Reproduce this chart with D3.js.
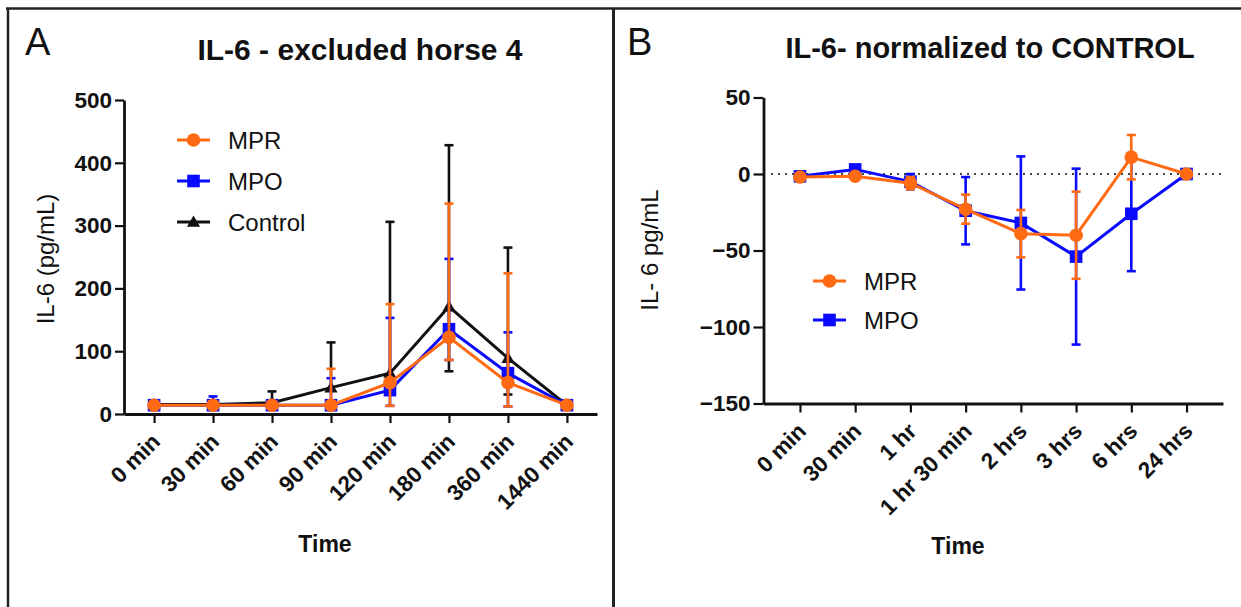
<!DOCTYPE html>
<html>
<head>
<meta charset="utf-8">
<script src="https://cdn.jsdelivr.net/npm/d3@7"></script>
<style>
  body { margin: 0; background: #fff; }
  text { font-family: "Liberation Sans", Arial, Helvetica, sans-serif; fill: #111; }
</style>
</head>
<body>
<svg id="chart" width="1241" height="607"></svg>
<script>
// ---------- Panel A: IL-6 (pg/mL), horse 4 excluded ----------
const timesA = ["0 min", "30 min", "60 min", "90 min", "120 min", "180 min", "360 min", "1440 min"];
const ticksA = [0, 100, 200, 300, 400, 500];

const mprA    = [14, 14, 14, 14, 50, 122, 50, 14];
const mprLoA  = [14, 14, 14, 14, 13, 86, 12, 14];
const mprHiA  = [14, 14, 14, 72, 175, 335, 224, 14];

const mpoA    = [14, 14, 14, 14, 38, 135, 65, 14];
const mpoLoA  = [14, 14, 14, 14, 13, 86, 12, 14];
const mpoHiA  = [14, 28, 14, 57, 153, 247, 130, 14];

const ctrlA   = [15, 15, 18, 42, 65, 171, 89, 14];
const ctrlLoA = [15, 15, 18, 42, 65, 68, 31, 14];
const ctrlHiA = [15, 15, 36, 114, 306, 428, 265, 14];

// ---------- Panel B: IL-6 normalized to control ----------
const timesB = ["0 min", "30 min", "1 hr", "1 hr 30 min", "2 hrs", "3 hrs", "6 hrs", "24 hrs"];
const ticksB = [-150, -100, -50, 0, 50];

const mprB    = [-2, -1.5, -6, -23, -39, -40, 11, 0];
const mprErrB = [0, 0, 4, 9.5, 15.5, 28.5, 14.5, 0];
const mpoB    = [-1.5, 3, -5, -24, -32, -54, -26, 0];
const mpoErrB = [0, 0, 5, 22, 43.5, 57.5, 37.5, 0];

const ORANGE = "#ff6a13";
const BLUE = "#0a0aff";
const BLACK = "#111";

const svg = d3.select("#chart");

// panel frame
const frame = svg.append("g").attr("stroke", "#222").attr("fill", "none");
frame.append("line").attr("x1", 6).attr("x2", 1241).attr("y1", 8.5).attr("y2", 8.5).attr("stroke-width", 2.5);
frame.append("line").attr("x1", 8).attr("x2", 8).attr("y1", 8).attr("y2", 607).attr("stroke-width", 2.5);
frame.append("line").attr("x1", 613.5).attr("x2", 613.5).attr("y1", 8).attr("y2", 607).attr("stroke-width", 3);

// panel letters and titles
svg.append("text").attr("x", 25).attr("y", 55).attr("font-size", 38).text("A");
svg.append("text").attr("x", 627).attr("y", 55).attr("font-size", 38).text("B");
svg.append("text").attr("x", 360).attr("y", 60).attr("text-anchor", "middle")
  .attr("font-size", 30).attr("font-weight", "bold").text("IL-6 - excluded horse 4");
svg.append("text").attr("x", 990).attr("y", 58).attr("text-anchor", "middle")
  .attr("font-size", 29).attr("font-weight", "bold").text("IL-6- normalized to CONTROL");

function marker(g, shape, color, cx, cy) {
  if (shape === "circle") {
    g.append("circle").attr("cx", cx).attr("cy", cy).attr("r", 6.8).attr("fill", color);
  } else if (shape === "square") {
    g.append("rect").attr("x", cx - 6.3).attr("y", cy - 6.3).attr("width", 12.6).attr("height", 12.6).attr("fill", color);
  } else {
    const s = d3.symbol(d3.symbolTriangle, 75)();
    g.append("path").attr("d", s).attr("transform", `translate(${cx},${cy + 1})`).attr("fill", color);
  }
}

function drawSeries(g, x, y, cats, mean, lo, hi, color, shape) {
  const s = g.append("g");
  const bars = s.append("g").attr("stroke", color).attr("stroke-width", 2.6);
  mean.forEach((m, i) => {
    const cx = x(cats[i]);
    [hi[i], lo[i]].forEach(v => {
      if (v === m) return;
      bars.append("line").attr("x1", cx).attr("x2", cx).attr("y1", y(m)).attr("y2", y(v));
      bars.append("line").attr("x1", cx - 4.5).attr("x2", cx + 4.5).attr("y1", y(v)).attr("y2", y(v));
    });
  });
  s.append("path").datum(mean)
    .attr("d", d3.line().x((d, i) => x(cats[i])).y(d => y(d)))
    .attr("fill", "none").attr("stroke", color).attr("stroke-width", 3).attr("stroke-linejoin", "miter");
  mean.forEach((m, i) => marker(s, shape, color, x(cats[i]), y(m)));
}

function styleAxis(ax) {
  ax.selectAll("path.domain").attr("stroke", BLACK).attr("stroke-width", 2.8);
  ax.selectAll(".tick line").attr("stroke", BLACK).attr("stroke-width", 2.2);
  ax.selectAll(".tick text").attr("font-family", "'Liberation Sans', Arial, sans-serif")
    .attr("font-size", 22.5).attr("font-weight", "bold").attr("fill", BLACK);
}

function xLabels(ax) {
  ax.selectAll(".tick text")
    .attr("text-anchor", "end")
    .attr("x", 0).attr("y", 0).attr("dy", 0)
    .attr("transform", "translate(7,29) rotate(-45)");
}

function legend(g, items, x0, y0, gap) {
  items.forEach((it, i) => {
    const cy = y0 + i * gap;
    g.append("line").attr("x1", x0).attr("x2", x0 + 33).attr("y1", cy).attr("y2", cy)
      .attr("stroke", it.color).attr("stroke-width", 3);
    marker(g, it.shape, it.color, x0 + 16.5, cy);
    g.append("text").attr("x", x0 + 51).attr("y", cy).attr("dy", "0.36em")
      .attr("font-size", 24).text(it.name);
  });
}

// ---------- Panel A ----------
{
  const g = svg.append("g");
  const x = d3.scalePoint().domain(timesA).range([124, 597]).padding(0.51);
  const y = d3.scaleLinear().domain([0, 500]).range([414, 100]);

  const ya = g.append("g").attr("transform", "translate(124,0)")
    .call(d3.axisLeft(y).tickValues(ticksA).tickSizeInner(9).tickSizeOuter(0).tickPadding(3));
  styleAxis(ya);
  const xa = g.append("g").attr("transform", "translate(0,414)")
    .call(d3.axisBottom(x).tickSizeInner(9).tickSizeOuter(0));
  styleAxis(xa);
  xLabels(xa);

  drawSeries(g, x, y, timesA, ctrlA, ctrlLoA, ctrlHiA, BLACK, "triangle");
  drawSeries(g, x, y, timesA, mpoA, mpoLoA, mpoHiA, BLUE, "square");
  drawSeries(g, x, y, timesA, mprA, mprLoA, mprHiA, ORANGE, "circle");

  legend(g, [
    { name: "MPR", color: ORANGE, shape: "circle" },
    { name: "MPO", color: BLUE, shape: "square" },
    { name: "Control", color: BLACK, shape: "triangle" }
  ], 177, 140, 41);

  g.append("text").attr("transform", "translate(54,259) rotate(-90)")
    .attr("text-anchor", "middle").attr("font-size", 24).text("IL-6 (pg/mL)");
  g.append("text").attr("x", 325).attr("y", 552).attr("text-anchor", "middle")
    .attr("font-size", 23).attr("font-weight", "bold").text("Time");
}

// ---------- Panel B ----------
{
  const g = svg.append("g");
  const x = d3.scalePoint().domain(timesB).range([763.5, 1223]).padding(0.66);
  const y = d3.scaleLinear().domain([-150, 50]).range([403.5, 97.5]);

  g.append("line").attr("x1", 771).attr("x2", 1223).attr("y1", y(0)).attr("y2", y(0))
    .attr("stroke", "#444").attr("stroke-width", 2).attr("stroke-dasharray", "2,5");

  const ya = g.append("g").attr("transform", "translate(763.5,0)")
    .call(d3.axisLeft(y).tickValues(ticksB).tickSizeInner(10).tickSizeOuter(0).tickPadding(3));
  styleAxis(ya);
  const xa = g.append("g").attr("transform", "translate(0,403.5)")
    .call(d3.axisBottom(x).tickSizeInner(9).tickSizeOuter(0));
  styleAxis(xa);
  xLabels(xa);

  const lo = (m, e) => m.map((v, i) => v - e[i]);
  const hi = (m, e) => m.map((v, i) => v + e[i]);
  drawSeries(g, x, y, timesB, mpoB, lo(mpoB, mpoErrB), hi(mpoB, mpoErrB), BLUE, "square");
  drawSeries(g, x, y, timesB, mprB, lo(mprB, mprErrB), hi(mprB, mprErrB), ORANGE, "circle");

  legend(g, [
    { name: "MPR", color: ORANGE, shape: "circle" },
    { name: "MPO", color: BLUE, shape: "square" }
  ], 813, 281, 39);

  g.append("text").attr("transform", "translate(658,250) rotate(-90)")
    .attr("text-anchor", "middle").attr("font-size", 24).text("IL- 6 pg/mL");
  g.append("text").attr("x", 958).attr("y", 554).attr("text-anchor", "middle")
    .attr("font-size", 23).attr("font-weight", "bold").text("Time");
}
</script>
</body>
</html>
